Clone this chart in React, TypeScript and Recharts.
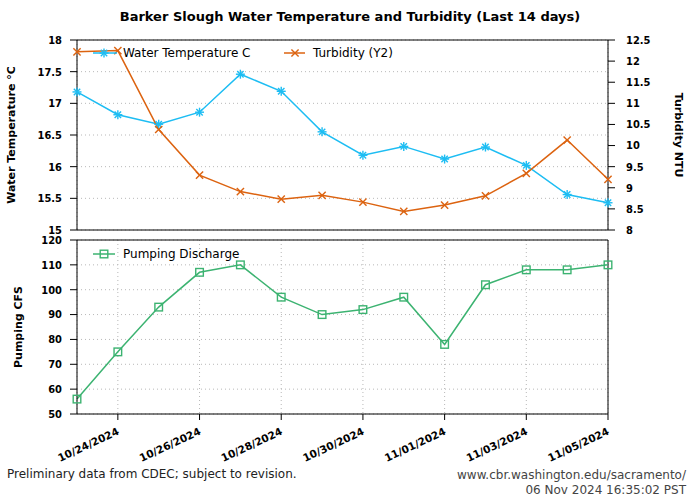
import React from 'react';
import { LineChart, Line, XAxis, YAxis, CartesianGrid, ReferenceLine } from 'recharts';

const dates = [
  '10/23/2024', '10/24/2024', '10/25/2024', '10/26/2024', '10/27/2024', '10/28/2024', '10/29/2024',
  '10/30/2024', '10/31/2024', '11/01/2024', '11/02/2024', '11/03/2024', '11/04/2024', '11/05/2024',
];
const waterTemp = [17.18, 16.82, 16.67, 16.86, 17.46, 17.19, 16.55, 16.18, 16.32, 16.12, 16.31, 16.02, 15.56, 15.43];
const turbidity = [12.22, 12.25, 10.38, 9.3, 8.91, 8.73, 8.82, 8.66, 8.44, 8.59, 8.81, 9.34, 10.13, 9.2];
const pumping = [56, 75, 93, 107, 110, 97, 90, 92, 97, 78, 102, 108, 108, 110];
const tempTicks = [15, 15.5, 16, 16.5, 17, 17.5, 18];
const turbTicks = [8, 8.5, 9, 9.5, 10, 10.5, 11, 11.5, 12, 12.5];
const pumpTicks = [50, 60, 70, 80, 90, 100, 110, 120];
const dateTickIdx = [1, 3, 5, 7, 9, 11, 13];

const data = dates.map((d, i) => ({ i, date: d, temp: waterTemp[i], turb: turbidity[i], pump: pumping[i] }));

const BLUE = '#1dbdf3';
const ORANGE = '#dc6310';
const GREEN = '#3cb371';
const TICK_FONT = {
  fill: '#000', fontSize: 11, fontWeight: 'bold' as const,
  fontFamily: '"DejaVu Sans Condensed", "DejaVu Sans"', fontStretch: 'condensed',
};
const LEG_FONT = 'DejaVu Sans';

const Star = ({ cx, cy, color }: any) => {
  if (cx == null || cy == null) return null;
  const r = 4.5;
  const d = 3.2;
  return (
    <g stroke={color} strokeWidth={1.4} fill="none">
      <line x1={cx - r} y1={cy} x2={cx + r} y2={cy} />
      <line x1={cx} y1={cy - r} x2={cx} y2={cy + r} />
      <line x1={cx - d} y1={cy - d} x2={cx + d} y2={cy + d} />
      <line x1={cx - d} y1={cy + d} x2={cx + d} y2={cy - d} />
    </g>
  );
};
const Cross = ({ cx, cy, color }: any) => {
  if (cx == null || cy == null) return null;
  const d = 3.6;
  return (
    <g stroke={color} strokeWidth={1.4} fill="none">
      <line x1={cx - d} y1={cy - d} x2={cx + d} y2={cy + d} />
      <line x1={cx - d} y1={cy + d} x2={cx + d} y2={cy - d} />
    </g>
  );
};
const Square = ({ cx, cy, color }: any) => {
  if (cx == null || cy == null) return null;
  const s = 3.8;
  return <rect x={cx - s} y={cy - s} width={2 * s} height={2 * s} stroke={color} strokeWidth={1.4} fill="none" />;
};

const AxisTitle = ({ viewBox, value, x, rot }: any) => {
  const cy = viewBox.y + viewBox.height / 2;
  return (
    <text x={x} y={cy} transform={`rotate(${rot}, ${x}, ${cy})`} textAnchor="middle" dominantBaseline="central"
      fontFamily="DejaVu Sans" fontWeight="bold" fontSize={11} fill="#000">{value}</text>
  );
};

const DateTick = ({ x, y, payload }: any) => (
  <g transform={`translate(${x + 2}, ${y + 12}) rotate(-25)`}>
    <text x={0} y={0} textAnchor="end" fontFamily="DejaVu Sans" fontWeight="bold" fontSize={10.5} fill="#000">
      {dates[payload.value]}
    </text>
  </g>
);

export default function App() {
  return (
    <div style={{ position: 'absolute', left: 0, top: 0, width: 700, height: 500, background: '#fff' }}>
      <div style={{ position: 'absolute', left: 0, top: 0 }}>
        <LineChart width={700} height={238} data={data} margin={{ top: 40, right: 0, bottom: 0, left: 0 }}>
          <CartesianGrid yAxisId="t" stroke="#b8b8b8" strokeDasharray="1 3" />
          <XAxis dataKey="i" type="number" domain={[0, 13]} ticks={dateTickIdx} tick={false} height={8}
            tickSize={6} stroke="#000" />
          <YAxis yAxisId="t" domain={[15, 18]} ticks={tempTicks} width={77} tickSize={7} tickMargin={8}
            tick={TICK_FONT} stroke="#000"
            label={(p: any) => <AxisTitle {...p} value="Water Temperature °C" x={11} rot={-90} />} />
          <YAxis yAxisId="n" orientation="right" domain={[8, 12.5]} ticks={turbTicks} width={92} tickSize={7}
            tickMargin={11} tick={TICK_FONT} stroke="#000"
            label={(p: any) => <AxisTitle {...p} value="Turbidity NTU" x={678} rot={90} />} />
          <ReferenceLine yAxisId="t" y={18} stroke="#000" />
          <Line yAxisId="t" dataKey="temp" name="Water Temperature C" stroke={BLUE} strokeWidth={1.5}
            dot={(p: any) => <Star key={p.index} cx={p.cx} cy={p.cy} color={BLUE} />} isAnimationActive={false} />
          <Line yAxisId="n" dataKey="turb" name="Turbidity (Y2)" stroke={ORANGE} strokeWidth={1.5}
            dot={(p: any) => <Cross key={p.index} cx={p.cx} cy={p.cy} color={ORANGE} />} isAnimationActive={false} />
        </LineChart>
      </div>
      <div style={{ position: 'absolute', left: 0, top: 0 }}>
        <LineChart width={700} height={500} data={data} margin={{ top: 240, right: 92, bottom: 0, left: 0 }}>
          <CartesianGrid yAxisId="p" stroke="#b8b8b8" strokeDasharray="1 3" />
          <XAxis dataKey="i" type="number" domain={[0, 13]} ticks={dateTickIdx} height={86} tickSize={6}
            stroke="#000" tick={<DateTick />} interval={0} />
          <YAxis yAxisId="p" domain={[50, 120]} ticks={pumpTicks} width={77} tickSize={7} tickMargin={8}
            tick={TICK_FONT} stroke="#000"
            label={(p: any) => <AxisTitle {...p} value="Pumping CFS" x={18} rot={-90} />} />
          <ReferenceLine yAxisId="p" y={120} stroke="#000" />
          <ReferenceLine yAxisId="p" x={13} stroke="#000" />
          <Line yAxisId="p" dataKey="pump" name="Pumping Discharge" stroke={GREEN} strokeWidth={1.5}
            dot={(p: any) => <Square key={p.index} cx={p.cx} cy={p.cy} color={GREEN} />} isAnimationActive={false} />
        </LineChart>
      </div>
      <svg width={700} height={500} style={{ position: 'absolute', left: 0, top: 0, pointerEvents: 'none' }}>
        <text x={350} y={16} textAnchor="middle" dominantBaseline="central" fontFamily="DejaVu Sans" fontWeight="bold"
          fontSize={13} fill="#000">Barker Slough Water Temperature and Turbidity (Last 14 days)</text>
        <line x1={93} y1={53} x2={117} y2={53} stroke={BLUE} strokeWidth={1.5} />
        <Star cx={104} cy={53} color={BLUE} />
        <text x={123} y={53} dominantBaseline="central" fontFamily={LEG_FONT} fontSize={12} fill="#000">Water Temperature C</text>
        <line x1={284} y1={53} x2={305} y2={53} stroke={ORANGE} strokeWidth={1.5} />
        <Cross cx={295} cy={53} color={ORANGE} />
        <text x={313} y={53} dominantBaseline="central" fontFamily={LEG_FONT} fontSize={12} fill="#000">Turbidity (Y2)</text>
        <line x1={93} y1={254} x2={115} y2={254} stroke={GREEN} strokeWidth={1.5} />
        <Square cx={104} cy={254} color={GREEN} />
        <text x={123} y={254} dominantBaseline="central" fontFamily={LEG_FONT} fontSize={12} fill="#000">Pumping Discharge</text>
        <text x={7} y={474} dominantBaseline="central" fontFamily={LEG_FONT} fontSize={12} fill="#222">
          Preliminary data from CDEC; subject to revision.</text>
        <text x={686} y={475} textAnchor="end" dominantBaseline="central" fontFamily={LEG_FONT} fontSize={12} fill="#444">
          www.cbr.washington.edu/sacramento/</text>
        <text x={686} y={490} textAnchor="end" dominantBaseline="central" fontFamily={LEG_FONT} fontSize={12} fill="#444">
          06 Nov 2024 16:35:02 PST</text>
      </svg>
    </div>
  );
}
